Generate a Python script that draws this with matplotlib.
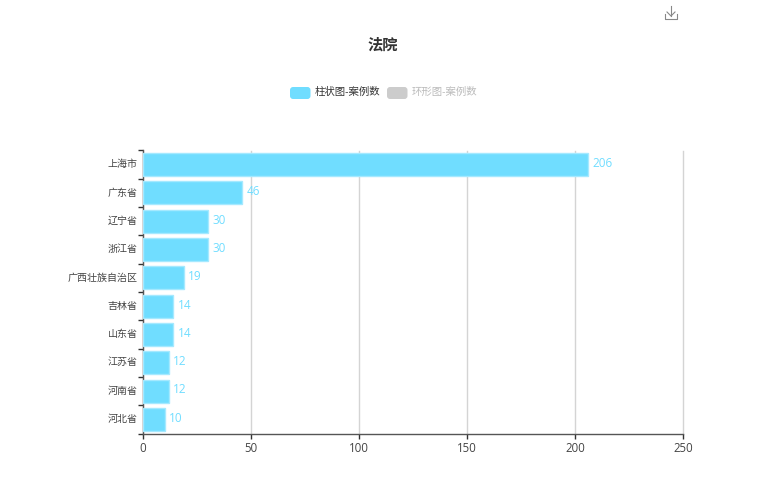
import matplotlib
matplotlib.use('Agg')
import matplotlib.pyplot as plt
from matplotlib.patches import FancyBboxPatch
from matplotlib.lines import Line2D

plt.rcParams['font.family'] = ['Open Sans', 'Noto Sans CJK SC', 'DejaVu Sans']

# data
provinces = ['上海市', '广东省', '辽宁省', '浙江省', '广西壮族自治区', '吉林省', '山东省', '江苏省', '河南省', '河北省']
cases = [206, 46, 30, 30, 19, 14, 14, 12, 12, 10]
x_ticks = [0, 50, 100, 150, 200, 250]
title = '法院'
legend_names = ['柱状图-案例数', '环形图-案例数']

W, H = 766, 500
BAR = '#70DDFF'
BAR_EDGE = '#A5E9FF'
DARK = '#444444'

def fx(px):
    return px / W

def fy(px):
    return 1 - px / H

fig = plt.figure(figsize=(W / 100, H / 100), dpi=100, facecolor='white')
ax = fig.add_axes([fx(143), fy(433.5), fx(683 - 143), (433.5 - 150.5) / H])

ypos = list(range(len(provinces)))
ax.barh(ypos, cases, height=0.81, color=BAR, edgecolor=BAR_EDGE, linewidth=1, zorder=3)
for y, v in zip(ypos, cases):
    ax.annotate(str(v), (v, y), xytext=(3.1, 0.8), textcoords='offset points',
                va='center', ha='left', fontsize=8.5, color='#70DDFF', zorder=4)

ax.set_xlim(0, 250)
ax.set_ylim(len(provinces) - 0.5, -0.5)
ax.set_xticks(x_ticks)
ax.set_xticklabels([str(t) for t in x_ticks])
ax.grid(axis='x', color='#D4D4D4', linewidth=1, zorder=0, clip_on=False)
ax.set_axisbelow(True)

# ticks sit on the band edges, labels in the band centres (nudged up a little)
ax.set_yticks([i - 0.5 for i in ypos] + [len(provinces) - 0.5])
ax.set_yticklabels([])
ax.set_yticks([i - 0.05 for i in ypos], minor=True)
ax.set_yticklabels(provinces, minor=True)
ax.tick_params(axis='y', which='major', length=3.5, width=1, color='#333333', direction='out')
ax.tick_params(axis='y', which='minor', length=0, pad=4, labelsize=7.2, labelcolor=DARK)
ax.tick_params(axis='x', length=3.5, width=1, color='#333333', labelsize=8.3, labelcolor=DARK, pad=2.5)

for side in ['top', 'right']:
    ax.spines[side].set_visible(False)
for side in ['left', 'bottom']:
    ax.spines[side].set_color('#555555')
    ax.spines[side].set_linewidth(1)

fig.text(fx(383), fy(45), title, ha='center', va='center', fontsize=11, fontweight='bold', color='#333333')

# legend
for x0, text_x, col, name, tcol in [(290, 315, BAR, legend_names[0], '#333333'),
                                     (387, 412, '#CCCCCC', legend_names[1], '#BBBBBB')]:
    fig.add_artist(FancyBboxPatch((fx(x0), fy(99)), 20.5 / W, 12 / H, transform=fig.transFigure,
                                  boxstyle='round,pad=0,rounding_size=0.004', mutation_aspect=W / H,
                                  facecolor=col, edgecolor='none'))
    fig.text(fx(text_x), fy(92.8), name, ha='left', va='center', fontsize=7.5, color=tcol)

# download icon
icon = '#888888'
for xs, ys in [([665, 665, 677, 677], [14, 19, 19, 14]),
               ([671, 671], [6, 16]),
               ([667, 671, 675], [12, 16, 12])]:
    fig.add_artist(Line2D([fx(a) for a in xs], [fy(b) for b in ys], color=icon, linewidth=0.8))

fig.savefig('out.png', dpi=100)
